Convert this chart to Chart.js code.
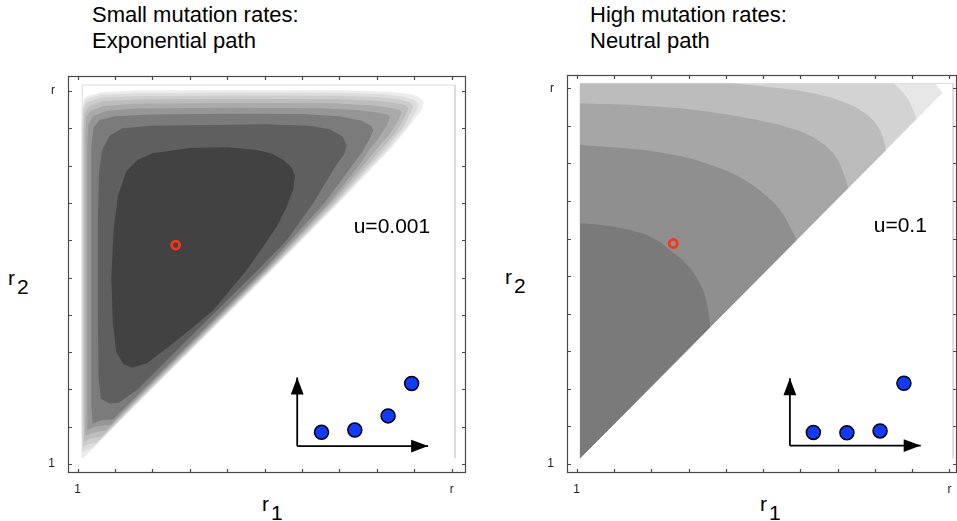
<!DOCTYPE html>
<html>
<head>
<meta charset="utf-8">
<title>Mutation paths</title>
<script src="https://cdn.jsdelivr.net/npm/chart.js@4.4.1/dist/chart.umd.min.js"></script>
<style>
  html, body { margin: 0; padding: 0; background: #fff; }
  body { position: relative; width: 957px; height: 521px; overflow: hidden;
         font-family: "Liberation Sans", Arial, sans-serif; color: #000; }
  canvas { position: absolute; top: 0; }
  .title { position: absolute; top: 2px; font-size: 22px; line-height: 26px; white-space: nowrap; }
  .axlab { position: absolute; font-size: 21px; line-height: 21px; white-space: nowrap; }
  .axlab sub { font-size: 21px; vertical-align: baseline; position: relative; top: 9px; margin-left: 2px; }
</style>
</head>
<body>
<div class="title" style="left:92px">Small mutation rates:<br>Exponential path</div>
<div class="title" style="left:590px">High mutation rates:<br>Neutral path</div>
<div class="axlab" style="left:262px; top:493px">r<sub>1</sub></div>
<div class="axlab" style="left:8px; top:267px">r<sub>2</sub></div>
<div class="axlab" style="left:760px; top:493px">r<sub>1</sub></div>
<div class="axlab" style="left:505px; top:266px">r<sub>2</sub></div>
<canvas id="expCanvas" width="478" height="521" style="left:0"></canvas>
<canvas id="neuCanvas" width="500" height="521" style="left:478px"></canvas>
<script>
// ---- data (axis units: 0 = "1", 10 = "r") ----
const tickValues = [0, 1, 2, 3, 4, 5, 6, 7, 8, 9, 10];
const tickLabels = ["1", "", "", "", "", "", "", "", "", "", "r"];

// left panel, u = 0.001: contour bands, outermost first
const expL1 = [[0.12,0.15],[0.10,1.0],[0.09,5.0],[0.09,9.0],[0.11,9.6],[0.2,9.84],[0.6,9.96],[1.5,10.01],[4,10.03],[7,10.02],[8.3,9.98],[8.8,9.93],[9.1,9.85],[9.25,9.72],[9.2,9.5],[8.9,9.1],[8.42,8.5],[7.94,8.0],[6.98,7.0],[5.2,5.2],[1.98,2.0],[0.28,0.29],[0.18,0.19]];
const expL2 = [[0.12,0.3],[0.11,1.0],[0.11,5],[0.11,9.0],[0.13,9.55],[0.22,9.78],[0.6,9.9],[1.5,9.94],[4,9.96],[7,9.95],[8.2,9.91],[8.7,9.85],[9.0,9.76],[9.11,9.64],[9.05,9.45],[8.8,9.05],[8.35,8.5],[7.88,8.0],[6.94,7.0],[5.17,5.2],[1.95,2.0],[0.38,0.42],[0.22,0.37]];
const expL3 = [[0.14,0.45],[0.13,1.2],[0.13,5],[0.13,9.0],[0.15,9.5],[0.25,9.7],[0.6,9.82],[1.5,9.86],[4,9.88],[7,9.87],[8.1,9.83],[8.6,9.77],[8.88,9.7],[8.97,9.6],[8.9,9.4],[8.68,9.0],[8.27,8.5],[7.82,8.0],[6.9,7.0],[5.14,5.2],[1.92,2.0],[0.52,0.58],[0.27,0.52]];
const expL4 = [[0.17,0.6],[0.16,1.3],[0.16,5],[0.16,8.9],[0.18,9.4],[0.3,9.6],[0.65,9.72],[1.5,9.77],[4,9.79],[7,9.78],[8.0,9.74],[8.5,9.68],[8.77,9.62],[8.84,9.54],[8.76,9.33],[8.55,8.95],[8.17,8.5],[7.74,8.0],[6.85,7.0],[5.11,5.2],[1.89,2.0],[0.64,0.74],[0.32,0.68]];
const expL5 = [[0.21,0.76],[0.2,1.4],[0.2,5],[0.2,8.8],[0.23,9.3],[0.35,9.48],[0.7,9.6],[1.5,9.66],[4,9.68],[6.8,9.67],[7.8,9.62],[8.35,9.55],[8.6,9.5],[8.66,9.43],[8.58,9.22],[8.35,8.85],[8.04,8.5],[7.64,8.0],[6.78,7.0],[5.07,5.2],[1.85,2.0],[0.76,0.9],[0.38,0.84]];
const expL6 = [[0.27,0.92],[0.26,1.5],[0.26,5],[0.26,8.7],[0.29,9.12],[0.42,9.33],[0.8,9.47],[1.6,9.53],[4,9.55],[6.5,9.54],[7.5,9.49],[8.05,9.42],[8.3,9.36],[8.35,9.28],[8.25,9.05],[8.02,8.7],[7.85,8.5],[7.52,8.0],[6.72,7.0],[5.03,5.2],[1.81,2.0],[0.88,1.06],[0.45,1.0]];
const expL7 = [[0.4,1.08],[0.37,1.5],[0.36,3],[0.36,7],[0.37,8.5],[0.42,9.0],[0.58,9.22],[1.0,9.32],[2,9.37],[4,9.39],[6,9.38],[7.0,9.32],[7.6,9.2],[7.85,9.06],[7.9,8.95],[7.8,8.7],[7.6,8.35],[7.34,8.0],[6.6,7.0],[4.97,5.2],[1.76,2.0],[0.95,1.2],[0.62,1.17]];
const expL8 = [[0.62,1.75],[0.56,2.3],[0.54,4],[0.54,6.5],[0.57,7.8],[0.65,8.4],[0.85,8.8],[1.2,9.0],[2,9.07],[3.5,9.09],[5,9.11],[6.2,9.07],[6.75,8.97],[7.08,8.78],[7.19,8.55],[7.12,8.3],[6.92,8.02],[6.3,7.0],[5.59,6.0],[4.82,5.2],[3.2,3.6],[1.6,2.0],[1.1,1.64],[0.85,1.62]];
const expL9 = [[1.45,2.58],[1.22,2.68],[1.03,3.0],[0.94,3.8],[0.9,5.0],[0.96,6.3],[1.08,7.2],[1.3,7.85],[1.6,8.15],[2.0,8.33],[3.0,8.47],[4.0,8.49],[4.79,8.42],[5.2,8.32],[5.5,8.15],[5.72,7.95],[5.81,7.72],[5.76,7.35],[5.59,6.9],[5.32,6.36],[4.96,5.83],[4.52,5.2],[4.07,4.66],[3.63,4.13],[3.0,3.6],[2.4,3.12],[1.85,2.7]];

// right panel, u = 0.1: contour bands, outermost first
const neuL1 = [[0.09,0.15],[0.09,10.13],[9.62,10.13],[9.72,10.0],[9.82,9.88]];
const neuL2 = [[0.09,0.15],[0.09,10.13],[8.5,10.13],[8.65,10.0],[8.77,9.87],[8.9,9.7],[8.99,9.51],[9.07,9.33],[9.12,9.18]];
const neuL3 = [[0.09,0.15],[0.09,10.13],[4.2,10.13],[4.85,10.07],[5.46,10.0],[5.95,9.94],[6.35,9.87],[6.85,9.75],[7.25,9.6],[7.55,9.46],[7.78,9.31],[7.98,9.12],[8.14,8.89],[8.24,8.62],[8.3,8.36]];
const neuL4 = [[0.09,0.15],[0.09,9.6],[1.43,9.56],[2.77,9.47],[3.45,9.39],[4.11,9.29],[4.8,9.17],[5.46,9.02],[5.95,8.88],[6.35,8.7],[6.65,8.5],[6.89,8.27],[7.05,8.02],[7.16,7.74],[7.24,7.52],[7.28,7.34]];
const neuL5 = [[0.09,0.15],[0.09,8.49],[0.98,8.43],[1.88,8.35],[2.77,8.2],[3.25,8.08],[3.67,7.93],[4.05,7.8],[4.38,7.63],[4.72,7.43],[5.01,7.2],[5.27,6.98],[5.46,6.76],[5.6,6.55],[5.72,6.32],[5.82,6.13],[5.9,5.96]];
const neuL6 = [[0.09,0.15],[0.09,6.41],[0.5,6.38],[0.98,6.32],[1.45,6.22],[1.88,6.1],[2.25,5.9],[2.59,5.63],[2.85,5.42],[3.04,5.22],[3.2,5.0],[3.31,4.8],[3.42,4.55],[3.49,4.28],[3.55,3.95],[3.58,3.64]];

// plot range boxes
const expRange = [[0.12,0.16],[0.12,10.16],[10.09,10.16],[10.09,0.16]];
const neuRange = [[0.09,0.15],[0.09,10.13],[10.1,10.13],[10.1,0.15]];

// red optimum marker
const expOptimum = [[2.62, 5.87]];
const neuOptimum = [[2.59, 5.87]];

// inset sketch: axes and fitness of the 4 genotypes
const expArrowUp = [[5.87,0.48],[5.87,2.32]];
const expArrowRight = [[5.87,0.48],[9.37,0.48]];
const expDots = [[6.52,0.85],[7.41,0.91],[8.30,1.29],[8.93,2.16]];
const neuArrowUp = [[5.72,0.49],[5.72,2.28]];
const neuArrowRight = [[5.72,0.49],[9.23,0.49]];
const neuDots = [[6.35,0.84],[7.25,0.83],[8.14,0.88],[8.78,2.15]];

// ---- styles ----
const expShades = ["#ececec", "#dddddd", "#cdcdcd", "#bdbdbd", "#aaaaaa", "#969696", "#7b7b7b", "#5f5f5f", "#424242"];
const neuShades = ["#e7e7e7", "#d3d3d3", "#bcbcbc", "#a6a6a6", "#8f8f8f", "#7a7a7a"];
const tickFont = { family: "'Liberation Sans', Arial, sans-serif", size: 12 };

const toXY = (pts) => pts.map(([x, y]) => ({ x, y }));

function shapeSet(points, color, order) {
  return {
    data: toXY(points),
    showLine: true,
    fill: "shape",
    backgroundColor: color,
    borderColor: "rgba(0,0,0,0)",
    borderWidth: 0,
    pointRadius: 0,
    tension: 0,
    order,
  };
}

function lineSet(points, color, width, order, extra) {
  return Object.assign({
    data: toXY(points),
    showLine: true,
    fill: false,
    borderColor: color,
    borderWidth: width,
    pointRadius: 0,
    tension: 0,
    order,
  }, extra || {});
}

// frame with inward ticks on all four sides
const frameTicks = {
  id: "frameTicks",
  afterDatasetsDraw(chart) {
    const { ctx, chartArea: a, scales } = chart;
    const len = 4;
    ctx.save();
    ctx.strokeStyle = "#4a4a4a";
    ctx.lineWidth = 1.2;
    ctx.strokeRect(a.left + 0.5, a.top + 0.5, a.width - 1, a.height - 1);
    ctx.beginPath();
    scales.x.ticks.forEach((t) => {
      const px = Math.round(scales.x.getPixelForValue(t.value)) + 0.5;
      ctx.moveTo(px, a.bottom); ctx.lineTo(px, a.bottom - len);
      ctx.moveTo(px, a.top); ctx.lineTo(px, a.top + len);
    });
    scales.y.ticks.forEach((t) => {
      const py = Math.round(scales.y.getPixelForValue(t.value)) + 0.5;
      ctx.moveTo(a.left, py); ctx.lineTo(a.left + len, py);
      ctx.moveTo(a.right, py); ctx.lineTo(a.right - len, py);
    });
    ctx.stroke();
    ctx.restore();
  },
};

// arrow heads at the end of datasets flagged arrowHead
const arrowHeads = {
  id: "arrowHeads",
  afterDatasetsDraw(chart) {
    const { ctx } = chart;
    chart.data.datasets.forEach((ds, i) => {
      if (!ds.arrowHead) return;
      const pts = chart.getDatasetMeta(i).data;
      const p1 = pts[pts.length - 2], p2 = pts[pts.length - 1];
      const ang = Math.atan2(p2.y - p1.y, p2.x - p1.x);
      const L = 17, W = 6.4;
      ctx.save();
      ctx.translate(p2.x, p2.y);
      ctx.rotate(ang);
      ctx.fillStyle = "#000";
      ctx.beginPath();
      ctx.moveTo(0, 0);
      ctx.lineTo(-L, -W);
      ctx.lineTo(-L, W);
      ctx.closePath();
      ctx.fill();
      ctx.restore();
    });
  },
};

// "u=..." note placed in data coordinates
const panelNote = {
  id: "panelNote",
  afterDatasetsDraw(chart, args, opts) {
    if (!opts || !opts.text) return;
    const { ctx, scales } = chart;
    ctx.save();
    ctx.font = opts.size + "px 'Liberation Sans', Arial, sans-serif";
    ctx.fillStyle = "#000";
    ctx.textBaseline = "alphabetic";
    ctx.fillText(opts.text, scales.x.getPixelForValue(opts.x), scales.y.getPixelForValue(opts.y));
    ctx.restore();
  },
};

function makePanel(canvasId, geom, bands, shades, range, optimum, arrowUp, arrowRight, dots, note) {
  const datasets = [lineSet(range, "#d9d9d9", 1, 100)];
  bands.forEach((b, i) => datasets.push(shapeSet(b, shades[i], 60 - i)));
  datasets.push(lineSet(arrowUp, "#000", 1.8, 6, { arrowHead: true }));
  datasets.push(lineSet(arrowRight, "#000", 1.8, 6, { arrowHead: true }));
  datasets.push({
    data: toXY(dots),
    showLine: false,
    pointRadius: 7,
    pointBorderWidth: 1.5,
    pointBorderColor: "#000",
    pointBackgroundColor: "#0f3bff",
    order: 3,
  });
  datasets.push({
    data: toXY(optimum),
    showLine: false,
    pointRadius: 4,
    pointBorderWidth: 2.8,
    pointBorderColor: "#ff3311",
    pointBackgroundColor: "rgba(0,0,0,0)",
    order: 1,
  });

  const tickCallback = (v) => {
    const k = tickValues.indexOf(v);
    return k >= 0 ? tickLabels[k] : "";
  };

  return new Chart(document.getElementById(canvasId), {
    type: "scatter",
    data: { datasets },
    options: {
      responsive: false,
      animation: false,
      events: [],
      layout: { padding: { top: geom.padTop, right: geom.padRight, left: 0, bottom: 0 } },
      plugins: {
        legend: { display: false },
        tooltip: { enabled: false },
        panelNote: note,
      },
      scales: {
        x: {
          type: "linear",
          min: geom.xMin,
          max: geom.xMax,
          afterBuildTicks: (s) => { s.ticks = tickValues.map((v) => ({ value: v })); },
          afterFit: (s) => { s.height = geom.xHeight; },
          grid: { display: false, drawTicks: false },
          border: { display: false },
          ticks: { callback: tickCallback, autoSkip: false, maxRotation: 0, padding: 9, font: tickFont, color: "#222" },
        },
        y: {
          type: "linear",
          min: geom.yMin,
          max: geom.yMax,
          afterBuildTicks: (s) => { s.ticks = tickValues.map((v) => ({ value: v })); },
          afterFit: (s) => { s.width = geom.yWidth; },
          grid: { display: false, drawTicks: false },
          border: { display: false },
          ticks: { callback: tickCallback, autoSkip: false, padding: 13, font: tickFont, color: "#222" },
        },
      },
    },
    plugins: [frameTicks, arrowHeads, panelNote],
  });
}

makePanel(
  "expCanvas",
  { padTop: 76, padRight: 12, yWidth: 68, xHeight: 48, xMin: -0.259, xMax: 10.383, yMin: -0.241, yMax: 10.402 },
  [expL1, expL2, expL3, expL4, expL5, expL6, expL7, expL8, expL9],
  expShades, expRange, expOptimum, expArrowUp, expArrowRight, expDots,
  { text: "u=0.001", x: 7.38, y: 6.2, size: 21 }
);

// the right canvas runs past the window edge so its frame can reach x = 957
makePanel(
  "neuCanvas",
  { padTop: 75, padRight: 21, yWidth: 89, xHeight: 48, xMin: -0.26, xMax: 10.204, yMin: -0.24, yMax: 10.354 },
  [neuL1, neuL2, neuL3, neuL4, neuL5, neuL6],
  neuShades, neuRange, neuOptimum, neuArrowUp, neuArrowRight, neuDots,
  { text: "u=0.1", x: 7.97, y: 6.18, size: 21 }
);
</script>
</body>
</html>
